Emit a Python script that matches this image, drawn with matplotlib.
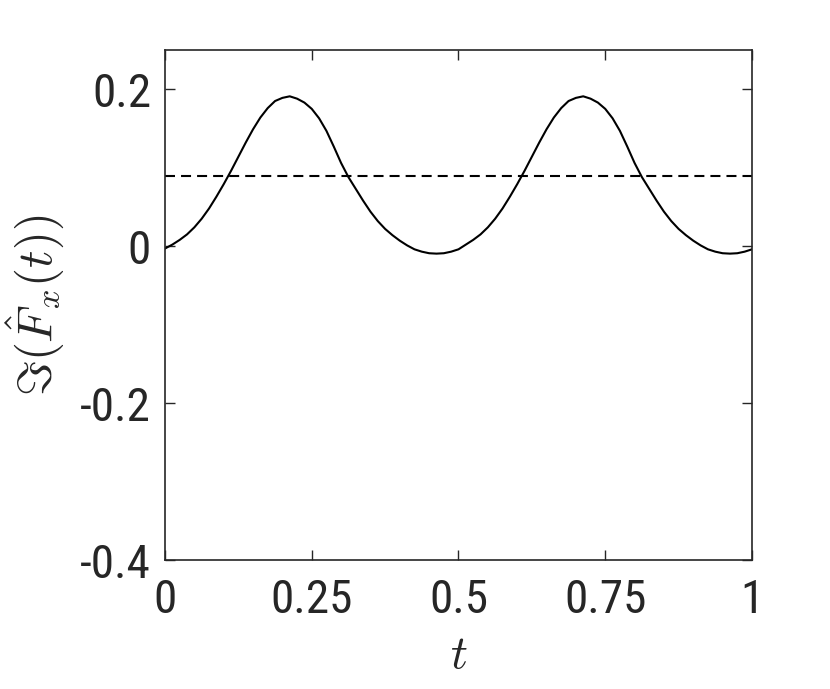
import numpy as np
import matplotlib
matplotlib.use("Agg")
import matplotlib.pyplot as plt

plt.rcParams["font.family"] = ["Roboto Condensed", "Liberation Sans", "DejaVu Sans"]
plt.rcParams["mathtext.fontset"] = "cm"

# values
t = [0.0, 0.0125, 0.025, 0.0375, 0.05, 0.0625, 0.075, 0.0875, 0.1, 0.1125,
     0.125, 0.1375, 0.15, 0.1625, 0.175, 0.1875, 0.2, 0.2125, 0.225, 0.2375,
     0.25, 0.2625, 0.275, 0.2875, 0.3, 0.3125, 0.325, 0.3375, 0.35, 0.3625,
     0.375, 0.3875, 0.4, 0.4125, 0.425, 0.4375, 0.45, 0.4625, 0.475, 0.4875,
     0.5, 0.5125, 0.525, 0.5375, 0.55, 0.5625, 0.575, 0.5875, 0.6, 0.6125,
     0.625, 0.6375, 0.65, 0.6625, 0.675, 0.6875, 0.7, 0.7125, 0.725, 0.7375,
     0.75, 0.7625, 0.775, 0.7875, 0.8, 0.8125, 0.825, 0.8375, 0.85, 0.8625,
     0.875, 0.8875, 0.9, 0.9125, 0.925, 0.9375, 0.95, 0.9625, 0.975, 0.9875,
     1.0]
fx_imag = [-0.003, 0.002, 0.008, 0.015, 0.024, 0.035, 0.048, 0.063, 0.079, 0.096,
           0.114, 0.132, 0.149, 0.164, 0.176, 0.185, 0.189, 0.191, 0.188, 0.183,
           0.175, 0.163, 0.147, 0.127, 0.106, 0.088, 0.073, 0.058, 0.044, 0.032,
           0.022, 0.014, 0.007, 0.001, -0.004, -0.007, -0.009, -0.0095, -0.009, -0.007,
           -0.004, 0.002, 0.008, 0.015, 0.024, 0.035, 0.048, 0.063, 0.079, 0.096,
           0.114, 0.132, 0.149, 0.164, 0.176, 0.185, 0.189, 0.191, 0.188, 0.183,
           0.175, 0.163, 0.147, 0.127, 0.106, 0.088, 0.073, 0.058, 0.044, 0.032,
           0.022, 0.014, 0.007, 0.001, -0.004, -0.007, -0.009, -0.0095, -0.009, -0.007,
           -0.004]
mean_level = 0.09

xticks = [0, 0.25, 0.5, 0.75, 1]
xtick_labels = ["0", "0.25", "0.5", "0.75", "1"]
yticks = [-0.4, -0.2, 0, 0.2]
ytick_labels = ["-0.4", "-0.2", "0", "0.2"]

fig = plt.figure(figsize=(8.3, 6.89), dpi=100)
ax = fig.add_axes([0.1988, 0.1872, 0.7072, 0.7402])

ax.plot(t, fx_imag, color="black", linewidth=1.5)
ax.axhline(mean_level, color="black", linewidth=1.5, linestyle=(0, (4.8, 2.9)))

ax.set_xlim(0, 1)
ax.set_ylim(-0.4, 0.25)
ax.set_xticks(xticks)
ax.set_xticklabels(xtick_labels)
ax.set_yticks(yticks)
ax.set_yticklabels(ytick_labels)

ax.tick_params(direction="in", top=True, right=True, length=7, width=1.0,
               labelsize=34, colors="#262626")
ax.tick_params(axis="x", pad=13)
ax.tick_params(axis="y", pad=10)
for sp in ax.spines.values():
    sp.set_linewidth(1.2)
    sp.set_color("#262626")

ax.set_xlabel(r"$t$", fontsize=34, color="#262626", labelpad=8)
ax.set_ylabel(r"$\Im(\hat{F}_x(t))$", fontsize=35, color="#262626", labelpad=10)

fig.savefig("out.png", dpi=100)
